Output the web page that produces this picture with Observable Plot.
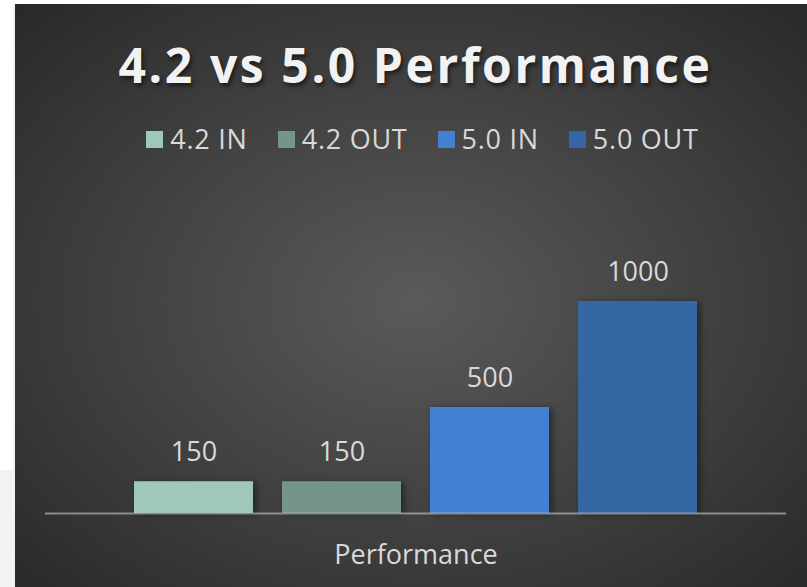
<!DOCTYPE html>
<html>
<head>
<meta charset="utf-8">
<script src="https://cdn.jsdelivr.net/npm/d3@7"></script>
<script src="https://cdn.jsdelivr.net/npm/@observablehq/plot@0.6"></script>
<style>
  html, body { margin: 0; padding: 0; background: #ffffff; }
  #page { position: relative; width: 807px; height: 587px; overflow: hidden; font-family: "Open Sans", sans-serif; }
  #panel { position: absolute; left: 15px; top: 4px; width: 792px; height: 583px;
    background: radial-gradient(ellipse 75% 75% at 50.5% 51%, #5a5a5a 0%, #3e3e3e 55%, #262626 100%); }
  #title { position: absolute; left: 0; width: 807px; top: 32px; text-align: center; margin-left: 12px;
    font-family: "Open Sans", sans-serif; font-weight: 700; font-size: 48px; letter-spacing: 2.6px;
    color: #f2f2f2; text-shadow: 2px 3px 4px rgba(0,0,0,0.55); line-height: 66px; }
  #legend { position: absolute; left: 0; width: 807px; top: 121px; display: flex; justify-content: center; margin-left: 19px;
    font-size: 27px; letter-spacing: 0.75px; color: #d9d9d9; line-height: 36px; }
  .item { display: flex; align-items: center; margin: 0 15px; }
  .sw { width: 17px; height: 17px; margin-right: 7px; }
  #chart { position: absolute; left: 0; top: 0; }
  .stripA { position: absolute; left: 0; top: 470px; width: 15px; height: 117px; background: #f2f2f2; }
  .stripB { position: absolute; left: 13px; top: 4px; width: 2px; height: 466px; background: #f2f2f2; }
</style>
</head>
<body>
<div id="page">
  <div class="stripB"></div>
  <div class="stripA"></div>
  <div id="panel"></div>
  <div id="title"></div>
  <div id="legend"></div>
  <div id="chart"></div>
</div>
<script>
const titleText = "4.2 vs 5.0 Performance";
const category = "Performance";
const series = ["4.2 IN", "4.2 OUT", "5.0 IN", "5.0 OUT"];
const values = [150, 150, 500, 1000];
const colors = ["#9ec8b9", "#76958a", "#4380d3", "#3567a4"];

document.getElementById("title").textContent = titleText;
const legend = document.getElementById("legend");
series.forEach((s, i) => {
  const it = document.createElement("div");
  it.className = "item";
  const sw = document.createElement("div");
  sw.className = "sw";
  sw.style.background = colors[i];
  const t = document.createElement("span");
  t.textContent = s;
  it.appendChild(sw); it.appendChild(t);
  legend.appendChild(it);
});

const data = series.map((s, i) => ({series: s, value: values[i], category}));

const plot = Plot.plot({
  width: 807,
  height: 587,
  marginLeft: 45,
  marginRight: 21,
  marginTop: 260,
  marginBottom: 24,
  style: {background: "transparent", fontFamily: "Open Sans, sans-serif", overflow: "visible"},
  x: {domain: series, range: [134, 697], paddingInner: 0.196, paddingOuter: 0, axis: null},
  y: {domain: [0, 1000], range: [513, 301], axis: null},
  color: {domain: series, range: colors},
  marks: [
    Plot.barY(data, {x: "series", y: "value", fill: "series"}),
    Plot.ruleY([0], {stroke: "#c8c8c8", strokeOpacity: 0.6, strokeWidth: 2.2}),
    Plot.text(data, {x: "series", y: "value", text: d => String(d.value), dy: -29,
      fill: "#d9d9d9", fontSize: 27}),
    Plot.text([category], {frameAnchor: "bottom", text: d => d, fill: "#d9d9d9", fontSize: 27})
  ]
});
const barG = plot.querySelector('g[aria-label="bar"]');
if (barG) barG.setAttribute("style", "filter: drop-shadow(3px 1px 3px rgba(0,0,0,0.45))");
document.getElementById("chart").appendChild(plot);
</script>
</body>
</html>
